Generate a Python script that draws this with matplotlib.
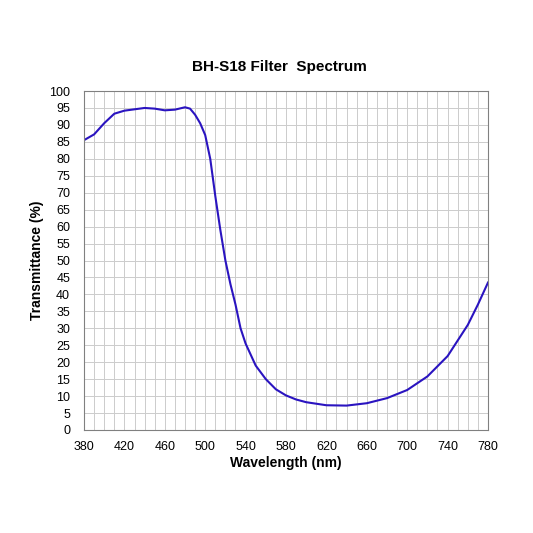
import numpy as np
import matplotlib.pyplot as plt

wavelength = [380, 390, 400, 410, 420, 430, 440, 450, 460, 470, 480, 485, 490, 495, 500, 505, 510, 515, 520, 525, 530,
              535, 540, 550, 560, 570, 580, 590, 600, 620, 640, 660, 680, 700, 720, 740, 760, 770, 780]
transmittance = [85.5, 87.2, 90.5, 93.3, 94.2, 94.6, 95.0, 94.8, 94.3, 94.5, 95.2, 94.8, 93.0, 90.5, 87.0, 80.0, 69.0, 59.0, 50.0, 43.0, 37.0,
                 30.0, 25.5, 19.0, 15.0, 12.0, 10.2, 9.0, 8.2, 7.3, 7.2, 7.9, 9.4, 11.8, 15.8, 21.8, 31.0, 37.0, 43.5]

plt.rcParams['font.family'] = ['Liberation Sans', 'DejaVu Sans']
fig = plt.figure(figsize=(5.33, 5.33), dpi=100)
ax = fig.add_axes([84/533, 1 - 430/533, 404/533, 339/533])

ax.plot(wavelength, transmittance, color="#2a14c0", linewidth=1.5)

ax.set_xlim(380, 780)
ax.set_ylim(0, 100)
ax.set_xticks(np.arange(380, 781, 40))
ax.set_xticks(np.arange(380, 781, 10), minor=True)
ax.set_yticks(np.arange(0, 101, 5))
ax.grid(True, which="both", color="#cccccc", linewidth=0.7)
ax.tick_params(which="minor", length=0)
ax.tick_params(which="major", length=0, labelsize=9)
ax.tick_params(axis="x", pad=8)
ax.tick_params(axis="y", pad=10)
for s in ax.spines.values():
    s.set_color("#808080")
ax.set_xlabel("Wavelength (nm)", fontsize=10, fontweight="bold", labelpad=2)
ax.set_ylabel("Transmittance (%)", fontsize=10, fontweight="bold", labelpad=4)
fig.text(0.525, 1 - 67/533, "BH-S18 Filter  Spectrum", ha="center", va="center", fontsize=11, fontweight="bold")

fig.savefig("out.png", dpi=100)
